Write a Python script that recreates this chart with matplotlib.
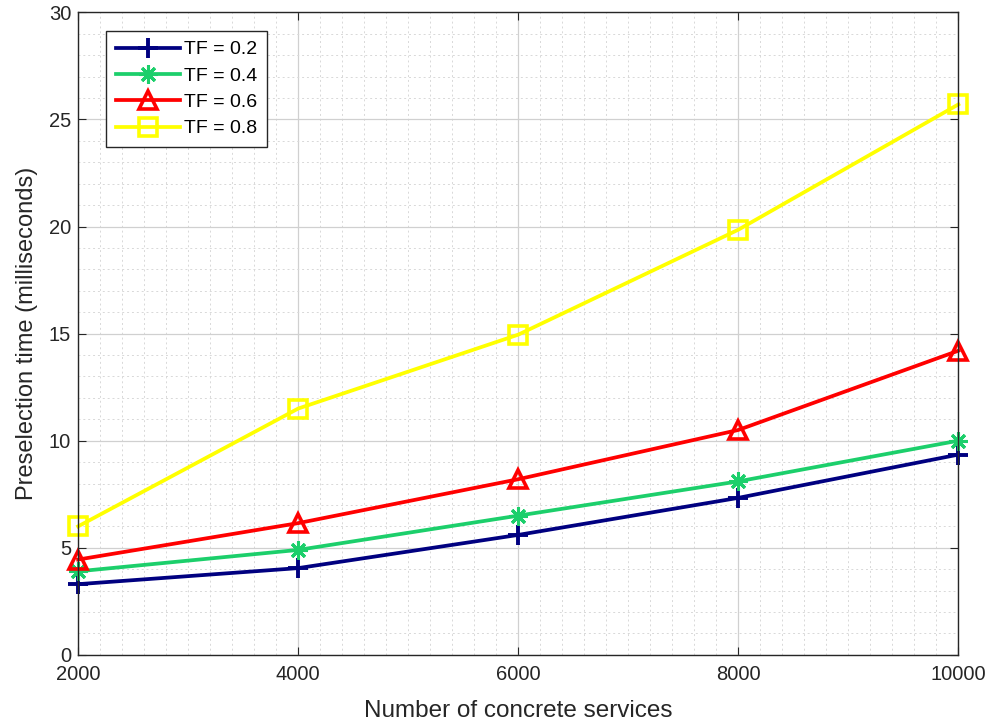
import matplotlib.pyplot as plt
import numpy as np
from matplotlib.ticker import MultipleLocator

plt.rcParams['font.family'] = ['Liberation Sans', 'DejaVu Sans']

services = [2000, 4000, 6000, 8000, 10000]
tf_02 = [3.3, 4.05, 5.6, 7.33, 9.35]
tf_04 = [3.9, 4.9, 6.5, 8.1, 10.0]
tf_06 = [4.45, 6.15, 8.2, 10.5, 14.2]
tf_08 = [6.0, 11.5, 14.95, 19.85, 25.7]
labels = ['TF = 0.2', 'TF = 0.4', 'TF = 0.6', 'TF = 0.8']

fig = plt.figure(figsize=(9.89, 7.26), dpi=100)
ax = fig.add_axes([0.079, 0.098, 0.89, 0.885])

ax.plot(services, tf_02, color='#000080', lw=2.7, marker='+', ms=15, mew=2.8, label=labels[0], clip_on=False)
ax.plot(services, tf_04, color='#1ccf6b', lw=2.7, marker=(8, 2, 0), ms=13, mew=2.2, label=labels[1], clip_on=False)
ax.plot(services, tf_06, color='#ff0000', lw=2.7, marker='^', ms=12.5, mew=2.6, mfc='none', label=labels[2], clip_on=False)
ax.plot(services, tf_08, color='#ffff00', lw=2.7, marker='s', ms=12.5, mew=2.6, mfc='none', label=labels[3], clip_on=False)

ax.set_xlim(2000, 10000)
ax.set_ylim(0, 30)
ax.set_xticks(services)
ax.set_yticks(np.arange(0, 31, 5))
ax.xaxis.set_minor_locator(MultipleLocator(200))
ax.yaxis.set_minor_locator(MultipleLocator(1))
ax.grid(True, which='major', color='#d0d0d0', lw=0.9)
ax.grid(True, which='minor', color='#d8d8d8', lw=0.7, ls=(0, (2, 3)))
ax.tick_params(which='minor', length=0)
ax.tick_params(which='major', direction='in', length=6, labelsize=14.5, colors='#262626')
ax.tick_params(axis='x', pad=7)
ax.tick_params(axis='y', pad=5)
ax.tick_params(top=True, right=True)
for s in ax.spines.values():
    s.set_color('#262626')
    s.set_linewidth(1.0)

ax.set_xlabel('Number of concrete services', fontsize=17.5, color='#262626', labelpad=12)
ax.set_ylabel('Preselection time (milliseconds)', fontsize=17, color='#262626', labelpad=8)

leg = ax.legend(loc='upper left', bbox_to_anchor=(0.021, 0.986), fontsize=14,
                frameon=True, fancybox=False, edgecolor='#262626', framealpha=1,
                handlelength=3.3, borderpad=0.5, labelspacing=0.45, handletextpad=0.2)
leg.get_frame().set_linewidth(1.0)

fig.savefig('out.png', dpi=100)
